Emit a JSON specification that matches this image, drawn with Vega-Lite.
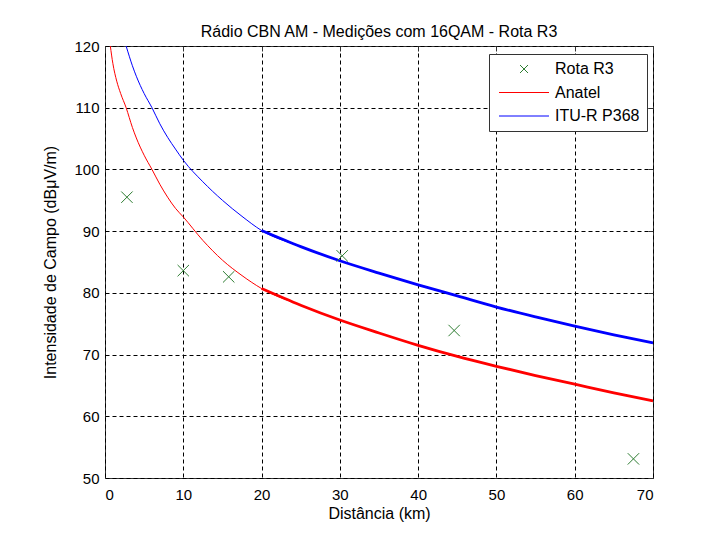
{
  "$schema": "https://vega.github.io/schema/vega-lite/v6.json",
  "width": 548,
  "height": 432,
  "autosize": {"type": "none"},
  "padding": {"left": 105, "top": 46, "right": 57, "bottom": 58},
  "background": "white",
  "title": {"text": "Rádio CBN AM - Medições com 16QAM - Rota R3", "fontSize": 16, "font": "Liberation Sans", "fontWeight": "normal", "color": "black", "offset": -1, "anchor": "middle"},
  "data": {"values": [
    {"serie": "Anatel", "d": 0.68, "e": 120},
    {"serie": "Anatel", "d": 1, "e": 117.2},
    {"serie": "Anatel", "d": 1.5, "e": 114.3},
    {"serie": "Anatel", "d": 2, "e": 112.3},
    {"serie": "Anatel", "d": 2.7, "e": 110},
    {"serie": "Anatel", "d": 3.5, "e": 106.8},
    {"serie": "Anatel", "d": 4, "e": 105.1},
    {"serie": "Anatel", "d": 5, "e": 102.3},
    {"serie": "Anatel", "d": 6, "e": 100},
    {"serie": "Anatel", "d": 7, "e": 97.6},
    {"serie": "Anatel", "d": 8, "e": 95.5},
    {"serie": "Anatel", "d": 9, "e": 93.7},
    {"serie": "Anatel", "d": 10, "e": 92.3},
    {"serie": "Anatel", "d": 12.5, "e": 88.5},
    {"serie": "Anatel", "d": 15, "e": 85.3},
    {"serie": "Anatel", "d": 17.5, "e": 82.8},
    {"serie": "Anatel", "d": 20, "e": 80.7},
    {"serie": "Anatel", "d": 25, "e": 78.0},
    {"serie": "Anatel", "d": 30, "e": 75.6},
    {"serie": "Anatel", "d": 35, "e": 73.5},
    {"serie": "Anatel", "d": 40, "e": 71.5},
    {"serie": "Anatel", "d": 45, "e": 69.7},
    {"serie": "Anatel", "d": 50, "e": 68.1},
    {"serie": "Anatel", "d": 55, "e": 66.6},
    {"serie": "Anatel", "d": 60, "e": 65.2},
    {"serie": "Anatel", "d": 65, "e": 63.8},
    {"serie": "Anatel", "d": 70, "e": 62.5},
    {"serie": "ITU-R P368", "d": 2.7, "e": 120},
    {"serie": "ITU-R P368", "d": 3.5, "e": 116.8},
    {"serie": "ITU-R P368", "d": 4, "e": 115.1},
    {"serie": "ITU-R P368", "d": 5, "e": 112.3},
    {"serie": "ITU-R P368", "d": 6, "e": 110},
    {"serie": "ITU-R P368", "d": 7, "e": 107.4},
    {"serie": "ITU-R P368", "d": 8, "e": 105.2},
    {"serie": "ITU-R P368", "d": 9, "e": 103.3},
    {"serie": "ITU-R P368", "d": 10, "e": 101.5},
    {"serie": "ITU-R P368", "d": 12.5, "e": 98.0},
    {"serie": "ITU-R P368", "d": 15, "e": 95.0},
    {"serie": "ITU-R P368", "d": 17.5, "e": 92.4},
    {"serie": "ITU-R P368", "d": 20, "e": 90.1},
    {"serie": "ITU-R P368", "d": 25, "e": 87.5},
    {"serie": "ITU-R P368", "d": 30, "e": 85.2},
    {"serie": "ITU-R P368", "d": 35, "e": 83.2},
    {"serie": "ITU-R P368", "d": 40, "e": 81.3},
    {"serie": "ITU-R P368", "d": 45, "e": 79.5},
    {"serie": "ITU-R P368", "d": 50, "e": 77.7},
    {"serie": "ITU-R P368", "d": 55, "e": 76.1},
    {"serie": "ITU-R P368", "d": 60, "e": 74.6},
    {"serie": "ITU-R P368", "d": 65, "e": 73.2},
    {"serie": "ITU-R P368", "d": 70, "e": 71.9},
    {"serie": "Rota R3", "d": 2.8, "e": 95.5},
    {"serie": "Rota R3", "d": 10.0, "e": 83.6},
    {"serie": "Rota R3", "d": 15.8, "e": 82.6},
    {"serie": "Rota R3", "d": 30.3, "e": 86.0},
    {"serie": "Rota R3", "d": 44.6, "e": 73.9},
    {"serie": "Rota R3", "d": 67.5, "e": 53.1}
  ]},
  "layer": [
    {
      "transform": [{"filter": "datum.serie !== 'Rota R3'"}],
      "mark": {"type": "line", "strokeWidth": 1, "interpolate": "monotone", "clip": true},
      "encoding": {
        "x": {"field": "d", "type": "quantitative", "scale": {"domain": [0, 70], "nice": false, "zero": false},
              "axis": {"orient": "bottom", "title": "Distância (km)", "values": [0, 10, 20, 30, 40, 50, 60, 70], "grid": true, "gridDash": [4, 3], "gridColor": "black", "gridOpacity": 1, "ticks": false, "labelPadding": 9, "titlePadding": 3}},
        "y": {"field": "e", "type": "quantitative", "scale": {"domain": [50, 120], "nice": false, "zero": false},
              "axis": {"orient": "left", "title": "Intensidade de Campo (dBμV/m)", "values": [50, 60, 70, 80, 90, 100, 110, 120], "grid": true, "gridDash": [4, 3], "gridColor": "black", "gridOpacity": 1, "ticks": false, "labelPadding": 6, "titlePadding": 15}},
        "color": {"field": "serie", "type": "nominal",
                  "scale": {"domain": ["Rota R3", "Anatel", "ITU-R P368"], "range": ["#2e7d32", "#ff0000", "#0000ff"]},
                  "legend": {"orient": "none", "legendX": 384, "legendY": 8, "title": null, "fillColor": "white", "strokeColor": "#333", "padding": 7,
                             "symbolSize": 100, "symbolType": "stroke", "symbolStrokeWidth": 1, "labelFontSize": 16, "labelFont": "Liberation Sans", "labelColor": "black", "labelOffset": 43, "rowPadding": 7.5,
                             "encode": {"symbols": {"update": {
                               "shape": {"signal": "datum.value === 'Rota R3' ? 'M3.2,-0.8L4.8,0.8M3.2,0.8L4.8,-0.8' : 'M-1,0L9,0'"},
                               "size": {"value": 100},
                               "stroke": {"signal": "scale('color', datum.value)"},
                               "fill": {"value": "transparent"},
                               "strokeWidth": {"value": 1}}}}}}
      }
    },
    {
      "transform": [{"filter": "datum.serie !== 'Rota R3' && datum.d >= 20"}],
      "mark": {"type": "line", "strokeWidth": 2.8, "interpolate": "monotone", "clip": true},
      "encoding": {
        "x": {"field": "d", "type": "quantitative", "axis": {"orient": "top", "title": null, "labels": false, "grid": false, "values": [0, 10, 20, 30, 40, 50, 60, 70], "ticks": true, "tickSize": -5, "tickColor": "#333"}},
        "y": {"field": "e", "type": "quantitative", "axis": {"orient": "right", "title": null, "labels": false, "grid": false, "values": [50, 60, 70, 80, 90, 100, 110, 120], "ticks": true, "tickSize": -5, "tickColor": "#333"}},
        "color": {"field": "serie", "type": "nominal", "legend": null}
      }
    },
    {
      "transform": [{"filter": "datum.serie === 'Rota R3'"}],
      "mark": {"type": "point", "shape": "M-1,-1L1,1M-1,1L1,-1", "filled": false, "size": 130, "strokeWidth": 1, "opacity": 1},
      "encoding": {
        "x": {"field": "d", "type": "quantitative", "axis": null},
        "y": {"field": "e", "type": "quantitative", "axis": null},
        "color": {"field": "serie", "type": "nominal", "legend": null}
      }
    }
  ],
  "resolve": {"axis": {"x": "independent", "y": "independent"}},
  "config": {
    "font": "Liberation Sans",
    "view": {"stroke": "#333", "strokeWidth": 1},
    "axis": {"domain": false, "labelFont": "Liberation Sans", "labelFontSize": 15, "labelColor": "black", "titleFont": "Liberation Sans", "titleFontSize": 16, "titleFontWeight": "normal", "titleColor": "black"}
  }
}
